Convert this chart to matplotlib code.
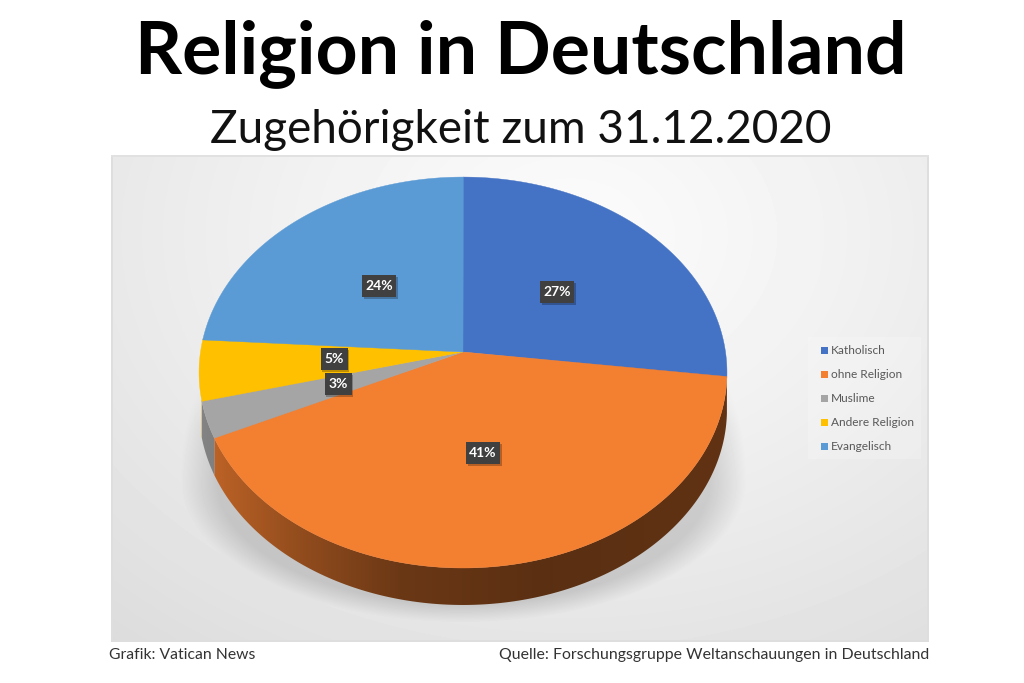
# religion_pie.py

import numpy as np
import matplotlib
matplotlib.use('Agg')
import matplotlib.pyplot as plt
from matplotlib.colors import to_rgb
from matplotlib.patches import Polygon, Rectangle

categories = ['Katholisch', 'ohne Religion', 'Muslime', 'Andere Religion', 'Evangelisch']
shares = [27, 41, 3, 5, 24]
colors = ['#4472C4', '#F37F31', '#A5A5A5', '#FFC000', '#5B9BD5']

# label box centres, same order as the categories
label_xy = [(557, 292), (483, 453), (338, 384), (334, 359), (379, 286)]

# pie geometry in pixels: a tilted disc seen in perspective
CX, CY = 463, 352
RX, RY, PERSP = 262.5, 193.3, 0.105
DEPTH = 37
PANEL = (111, 155, 929, 642)


def project(deg):
    """Clockwise angle from 12 o'clock to a point on the disc rim."""
    t = np.radians(deg)
    u, v = np.sin(t), np.cos(t)
    w = 1 + PERSP * v
    return CX + RX * u / w, CY - RY * v / w


def panel_image():
    x0, y0, x1, y1 = PANEL
    xx, yy = np.meshgrid(np.arange(x0, x1), np.arange(y0, y1))
    r = np.hypot((xx - 570) / 720, (yy - 235) / 540)
    base = 0.985 - 0.125 * np.clip(r, 0, 1.1) ** 1.2

    # soft shadow under the disc, pointed at both sides and fading upwards
    dy = yy - 480
    d = np.hypot((xx - 463) / 283, dy / np.where(dy > 0, 142, 277))
    shadow = np.clip((1.0 - d) / 0.13, 0, 1)
    shadow = shadow * np.clip((yy - 375) / 50, 0, 1)
    shadow[yy > 621] = 0
    img = base - 0.13 * shadow
    img[:, :2] = 0.87
    img[:, -2:] = 0.87
    img[:2, :] = 0.88
    img[-2:, :] = 0.87
    return img


def wall_shade(x):
    return np.interp(x, [200, 300, 400, 550, 727], [0.80, 0.60, 0.44, 0.37, 0.40])


fig = plt.figure(figsize=(10.24, 6.83), dpi=100)
ax = fig.add_axes([0, 0, 1, 1])
ax.set_xlim(0, 1024)
ax.set_ylim(683, 0)
ax.axis('off')

ax.imshow(panel_image(), cmap='gray', vmin=0, vmax=1, aspect='auto', interpolation='bilinear',
          extent=(PANEL[0], PANEL[2], PANEL[3], PANEL[1]), zorder=1)

# slice edges, clockwise from the top
edges = np.concatenate([[0], np.cumsum(shares)]) * 3.6

# side wall, only the front part of the rim is visible
shade_x = np.arange(190, 740)
for start, end, col in zip(edges[:-1], edges[1:], colors):
    lo, hi = max(start, 96), min(end, 256)
    if lo >= hi:
        continue
    rim_x, rim_y = project(np.linspace(lo, hi, 200))
    outline = np.column_stack([np.concatenate([rim_x, rim_x[::-1]]),
                               np.concatenate([rim_y, rim_y[::-1] + DEPTH])])
    clip = Polygon(outline, closed=True, transform=ax.transData, fill=False, lw=0)
    ax.add_patch(clip)
    strip = wall_shade(shade_x)[None, :, None] * np.array(to_rgb(col))
    im = ax.imshow(strip, aspect='auto', extent=(190, 740, 620, 360), zorder=2)
    im.set_clip_path(clip)
ax.set_xlim(0, 1024)
ax.set_ylim(683, 0)

# top surface
for start, end, col in zip(edges[:-1], edges[1:], colors):
    angles = np.arange(start, end + 0.5, 0.5)
    rim_x, rim_y = project(angles)
    ax.fill(np.concatenate([[CX], rim_x]), np.concatenate([[CY], rim_y]),
            color=col, lw=0.3, zorder=3)

# data labels
for share, (lx, ly) in zip(shares, label_xy):
    w = 34 if share >= 10 else 27
    ax.add_patch(Rectangle((lx - w / 2 + 1.5, ly - 11 + 1.5), w, 22, color='#000000', alpha=0.25, lw=0, zorder=4))
    ax.add_patch(Rectangle((lx - w / 2, ly - 11), w, 22, color='#404040', lw=0, zorder=5))
    ax.text(lx, ly, f'{share}%', color='white', fontsize=10, fontweight='bold', family='Lato',
            ha='center', va='center', zorder=6)

# legend
ax.add_patch(Rectangle((808, 337), 113, 122, color='white', alpha=0.2, lw=0, zorder=2))
for i, (name, col) in enumerate(zip(categories, colors)):
    y = 350 + 24 * i
    ax.add_patch(Rectangle((821, y - 3.5), 7, 7, color=col, lw=0, zorder=3))
    ax.text(831, y, name, color='#595959', fontsize=8.6, family='Lato', ha='left', va='center', zorder=3)

# headings and footer
ax.text(521, 54, 'Religion in Deutschland', color='black', fontsize=52.8, fontweight='bold', family='Lato',
        ha='center', va='center')
ax.text(521, 130, 'Zugehörigkeit zum 31.12.2020', color='#111111', fontsize=33, family='Lato',
        ha='center', va='center')
ax.text(109, 655, 'Grafik: Vatican News', color='#333333', fontsize=11.3, family='Lato', ha='left', va='center')
ax.text(929, 655, 'Quelle: Forschungsgruppe Weltanschauungen in Deutschland', color='#333333', fontsize=11.4,
        family='Lato', ha='right', va='center')

fig.savefig('out.png', dpi=100)
